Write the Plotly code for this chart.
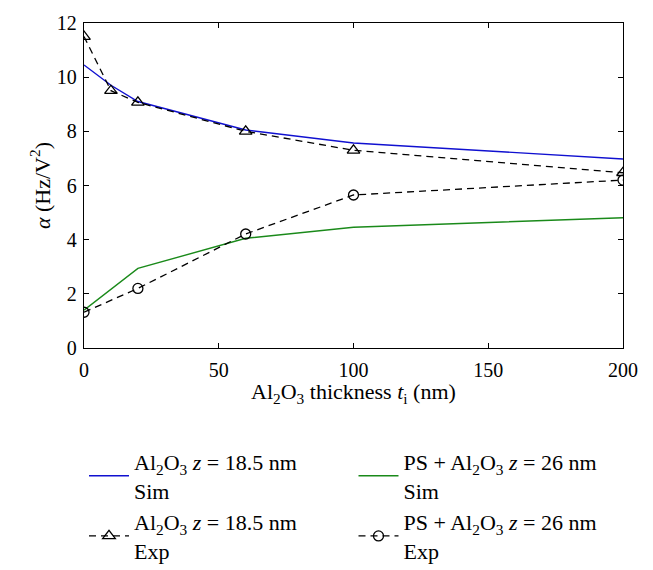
import plotly.graph_objects as go

thickness = [0, 10, 20, 60, 100, 200]
al_sim = [10.45, 9.7, 9.1, 8.05, 7.57, 6.98]
al_exp = [11.5, 9.5, 9.07, 8.0, 7.3, 6.47]
ps_thickness = [0, 20, 60, 100, 200]
ps_sim = [1.4, 2.94, 4.05, 4.46, 4.81]
ps_exp = [1.32, 2.2, 4.21, 5.65, 6.2]

FONT = "Liberation Serif"
FS = 20
FL = 22
AL = "Al<sub>2</sub>O<sub>3</sub>"

fig = go.Figure()
fig.add_trace(go.Scatter(x=thickness, y=al_sim, mode="lines",
                         line=dict(color="#1010d0", width=1.4),
                         name=f"{AL} <i>z</i> = 18.5 nm<br>Sim"))
fig.add_trace(go.Scatter(x=ps_thickness, y=ps_sim, mode="lines",
                         line=dict(color="#1a8a1a", width=1.4),
                         name=f"PS + {AL} <i>z</i> = 26 nm<br>Sim"))
fig.add_trace(go.Scatter(x=thickness, y=al_exp, mode="lines+markers",
                         line=dict(color="black", width=1.3, dash="7px,5px"),
                         marker=dict(symbol="triangle-up-open", size=11, color="black",
                                     line=dict(width=1.3, color="black")),
                         name=f"{AL} <i>z</i> = 18.5 nm<br>Exp"))
fig.add_trace(go.Scatter(x=ps_thickness, y=ps_exp, mode="lines+markers",
                         line=dict(color="black", width=1.3, dash="7px,5px"),
                         marker=dict(symbol="circle-open", size=10, color="black",
                                     line=dict(width=1.3, color="black")),
                         name=f"PS + {AL} <i>z</i> = 26 nm<br>Exp"))

axis_common = dict(showgrid=False, zeroline=False, showline=True, linecolor="black",
                   linewidth=1.3, mirror="ticks", ticks="inside", ticklen=5,
                   tickcolor="black", tickfont=dict(family=FONT, size=FS, color="black"))

fig.update_xaxes(range=[0, 200], tickvals=[0, 50, 100, 150, 200],
                 ticklabelstandoff=4, **axis_common)
fig.update_yaxes(range=[0, 12], tickvals=[0, 2, 4, 6, 8, 10, 12],
                 ticklabelstandoff=2,
                 title=dict(text="<i>α</i> (Hz/V<sup>2</sup>)",
                            font=dict(family=FONT, size=FL, color="black"), standoff=0),
                 **axis_common)

fig.add_annotation(text=f"{AL} thickness <i>t</i><sub>i</sub> (nm)",
                   xref="paper", yref="paper", x=0.5, y=-0.137,
                   xanchor="center", yanchor="middle", showarrow=False,
                   font=dict(family=FONT, size=FL, color="black"))

fig.update_layout(
    width=645, height=562,
    margin=dict(l=76, r=30, t=15, b=222, autoexpand=False),
    plot_bgcolor="white", paper_bgcolor="white",
    font=dict(family=FONT, size=FS, color="black"),
    legend=dict(orientation="h", x=0, y=-0.285, xanchor="left", yanchor="top",
                entrywidth=0.5, entrywidthmode="fraction",
                font=dict(family=FONT, size=FL, color="black"),
                itemwidth=40, tracegroupgap=0),
    showlegend=True,
)

fig.write_html("out.html")
